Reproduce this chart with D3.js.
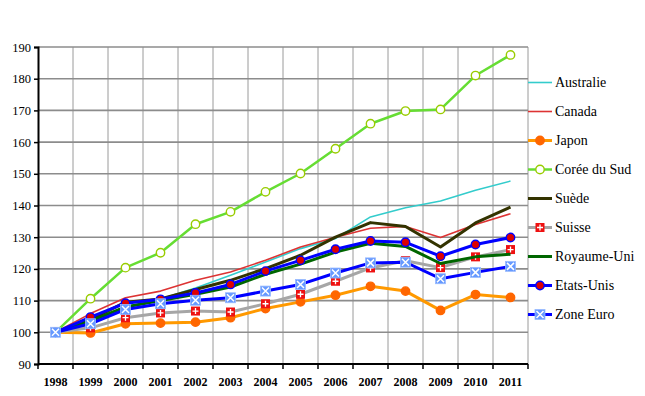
<!DOCTYPE html>
<html>
<head>
<meta charset="utf-8">
<script src="https://cdn.jsdelivr.net/npm/d3@7"></script>
<style>
  body { margin: 0; background: #fff; }
</style>
</head>
<body>
<svg id="chart" width="645" height="396"></svg>
<script>
var years = ["1998", "1999", "2000", "2001", "2002", "2003", "2004", "2005", "2006", "2007", "2008", "2009", "2010", "2011"];
var yTicks = [90, 100, 110, 120, 130, 140, 150, 160, 170, 180, 190];

var australie = [100, 104, 108, 110.5, 114, 118, 122.2, 126.4, 129.6, 136.4, 139.3, 141.4, 144.8, 147.7];
var canada = [100, 105.9, 110.9, 113, 116.4, 119, 122.7, 126.9, 130, 132.8, 133.4, 129.9, 134, 137.4];
var japon = [100, 99.8, 102.7, 102.9, 103.2, 104.6, 107.5, 109.6, 111.7, 114.5, 113, 106.9, 111.9, 111];
var coree = [100, 110.6, 120.4, 125.1, 134.1, 138, 144.3, 150.1, 157.9, 165.8, 169.8, 170.3, 181, 187.5];
var suede = [100, 104, 109.5, 110.5, 113.5, 116.4, 120.1, 124.3, 130, 134.6, 133.4, 126.9, 134.5, 139.5];
var suisse = [100, 101.4, 104.6, 106.1, 106.7, 106.4, 109, 112, 116.1, 120.3, 122.6, 120.4, 123.8, 126.1];
var royaumeUni = [100, 103.5, 108, 110, 112, 114.3, 118.3, 121.5, 125.3, 128.1, 127.1, 121.7, 123.8, 124.6];
var etatsUnis = [100, 104.8, 109.2, 110.4, 112.4, 115.1, 119.3, 122.7, 126.2, 128.8, 128.4, 124, 127.7, 129.9];
var zoneEuro = [100, 102.7, 107.2, 109, 110.1, 110.9, 113, 115.1, 118.7, 121.9, 122.1, 116.9, 118.9, 120.8];

var series = [
  { name: "Australie", values: australie, color: "#33CCCC", width: 1.6, marker: null },
  { name: "Canada", values: canada, color: "#DD3333", width: 1.6, marker: null },
  { name: "Japon", values: japon, color: "#FF9900", width: 3, marker: "circle", fill: "#FF6600", stroke: "#FF6600" },
  { name: "Corée du Sud", values: coree, color: "#66DD33", width: 2.5, marker: "circle", fill: "#ffffff", stroke: "#99CC00" },
  { name: "Suède", values: suede, color: "#333300", width: 3, marker: null },
  { name: "Suisse", values: suisse, color: "#A6A6A6", width: 3, marker: "plus", fill: "#EE1111" },
  { name: "Royaume-Uni", values: royaumeUni, color: "#006600", width: 3, marker: null },
  { name: "Etats-Unis", values: etatsUnis, color: "#0000FF", width: 3, marker: "circle", fill: "#DD0000", stroke: "#0000FF" },
  { name: "Zone Euro", values: zoneEuro, color: "#0000FF", width: 3, marker: "cross", fill: "#6699FF" }
];

var serif = "Liberation Serif";

var margin = { top: 47, right: 117, bottom: 32, left: 38 };
var width = 645 - margin.left - margin.right;
var height = 396 - margin.top - margin.bottom;

var svg = d3.select("#chart").
  append("g").
  attr("transform", "translate(" + margin.left + "," + margin.top + ")");

var xScale = d3.scaleBand().
  domain(years).
  range([0, width]).
  padding(0);

var yScale = d3.scaleLinear().
  domain([90, 190]).
  range([height, 0]);

var cx = function(i) { return xScale(years[i]) + xScale.bandwidth() / 2; };
var edge = function(i) { return i < years.length ? xScale(years[i]) : width; };

// vertical grid at category boundaries
svg.append("g").
  selectAll("line").
  data(d3.range(1, years.length + 1)).
  enter().append("line").
  attr("x1", edge).
  attr("x2", edge).
  attr("y1", 0).
  attr("y2", height).
  attr("stroke", "#9a9a9a").
  attr("stroke-width", 1);

// horizontal grid
svg.append("g").
  selectAll("line").
  data(yTicks.slice(1)).
  enter().append("line").
  attr("x1", 0).
  attr("x2", width).
  attr("y1", function(d) { return yScale(d); }).
  attr("y2", function(d) { return yScale(d); }).
  attr("stroke", "#8c8c8c").
  attr("stroke-width", 1.6);

// y axis
var yAxis = d3.axisLeft(yScale).
  tickValues(yTicks).
  tickSize(4).
  tickPadding(3);

var gY = svg.append("g").call(yAxis).attr("font-family", serif);
gY.select(".domain").attr("stroke", "#000").attr("stroke-width", 2);
gY.selectAll(".tick line").attr("stroke", "#000").attr("stroke-width", 1.5);
gY.selectAll(".tick text").
  style("font-family", serif).
  attr("font-size", 12.5).
  attr("fill", "#000");

// x axis
var gX = svg.append("g").
  attr("transform", "translate(0," + height + ")");

gX.append("line").
  attr("x1", 0).attr("x2", width).
  attr("y1", 0).attr("y2", 0).
  attr("stroke", "#000").attr("stroke-width", 2);

gX.selectAll(".xtick").
  data(d3.range(0, years.length + 1)).
  enter().append("line").
  attr("x1", edge).
  attr("x2", edge).
  attr("y1", 0).attr("y2", 5).
  attr("stroke", "#000").attr("stroke-width", 1.5);

gX.selectAll(".xlabel").
  data(years).
  enter().append("text").
  attr("x", function(d, i) { return cx(i); }).
  attr("y", 22).
  attr("text-anchor", "middle").
  style("font-family", serif).
  attr("font-size", 12).
  attr("font-weight", "bold").
  text(function(d) { return d; });

var line = d3.line().
  x(function(d, i) { return cx(i); }).
  y(function(d) { return yScale(d); });

function drawMarker(g, s, x, y) {
  if (s.marker === "circle") {
    g.append("circle").
      attr("cx", x).attr("cy", y).attr("r", 4.2).
      attr("fill", s.fill).
      attr("stroke", s.stroke).
      attr("stroke-width", 1.4);
  } else if (s.marker === "plus") {
    g.append("rect").
      attr("x", x - 4.5).attr("y", y - 4.5).
      attr("width", 9).attr("height", 9).
      attr("fill", s.fill);
    g.append("path").
      attr("d", "M" + (x - 3) + "," + y + "H" + (x + 3) + "M" + x + "," + (y - 3) + "V" + (y + 3)).
      attr("stroke", "#fff").attr("stroke-width", 1.3);
  } else if (s.marker === "cross") {
    g.append("rect").
      attr("x", x - 5).attr("y", y - 5).
      attr("width", 10).attr("height", 10).
      attr("fill", s.fill).
      attr("stroke", "#99BBFF").attr("stroke-width", 0.8);
    g.append("path").
      attr("d", "M" + (x - 3.5) + "," + (y - 3.5) + "L" + (x + 3.5) + "," + (y + 3.5) +
        "M" + (x + 3.5) + "," + (y - 3.5) + "L" + (x - 3.5) + "," + (y + 3.5)).
      attr("stroke", "#fff").attr("stroke-width", 1.5);
  }
}

series.forEach(function(s) {
  var g = svg.append("g");
  g.append("path").
    datum(s.values).
    attr("fill", "none").
    attr("stroke", s.color).
    attr("stroke-width", s.width).
    attr("stroke-linejoin", "round").
    attr("d", line);
  if (s.marker) {
    s.values.forEach(function(v, i) {
      drawMarker(g, s, cx(i), yScale(v));
    });
  }
});

// legend
var legend = d3.select("#chart").append("g").
  attr("transform", "translate(" + (margin.left + width) + ",0)");

series.forEach(function(s, i) {
  var y = 82.5 + i * 29;
  var g = legend.append("g");
  g.append("line").
    attr("x1", 0).attr("x2", 24).
    attr("y1", y).attr("y2", y).
    attr("stroke", s.color).
    attr("stroke-width", s.width);
  if (s.marker) drawMarker(g, s, 12, y);
  g.append("text").
    attr("x", 27).
    attr("y", y).
    attr("dy", "0.35em").
    style("font-family", serif).
    attr("font-size", 14).
    text(s.name);
});
</script>
</body>
</html>
